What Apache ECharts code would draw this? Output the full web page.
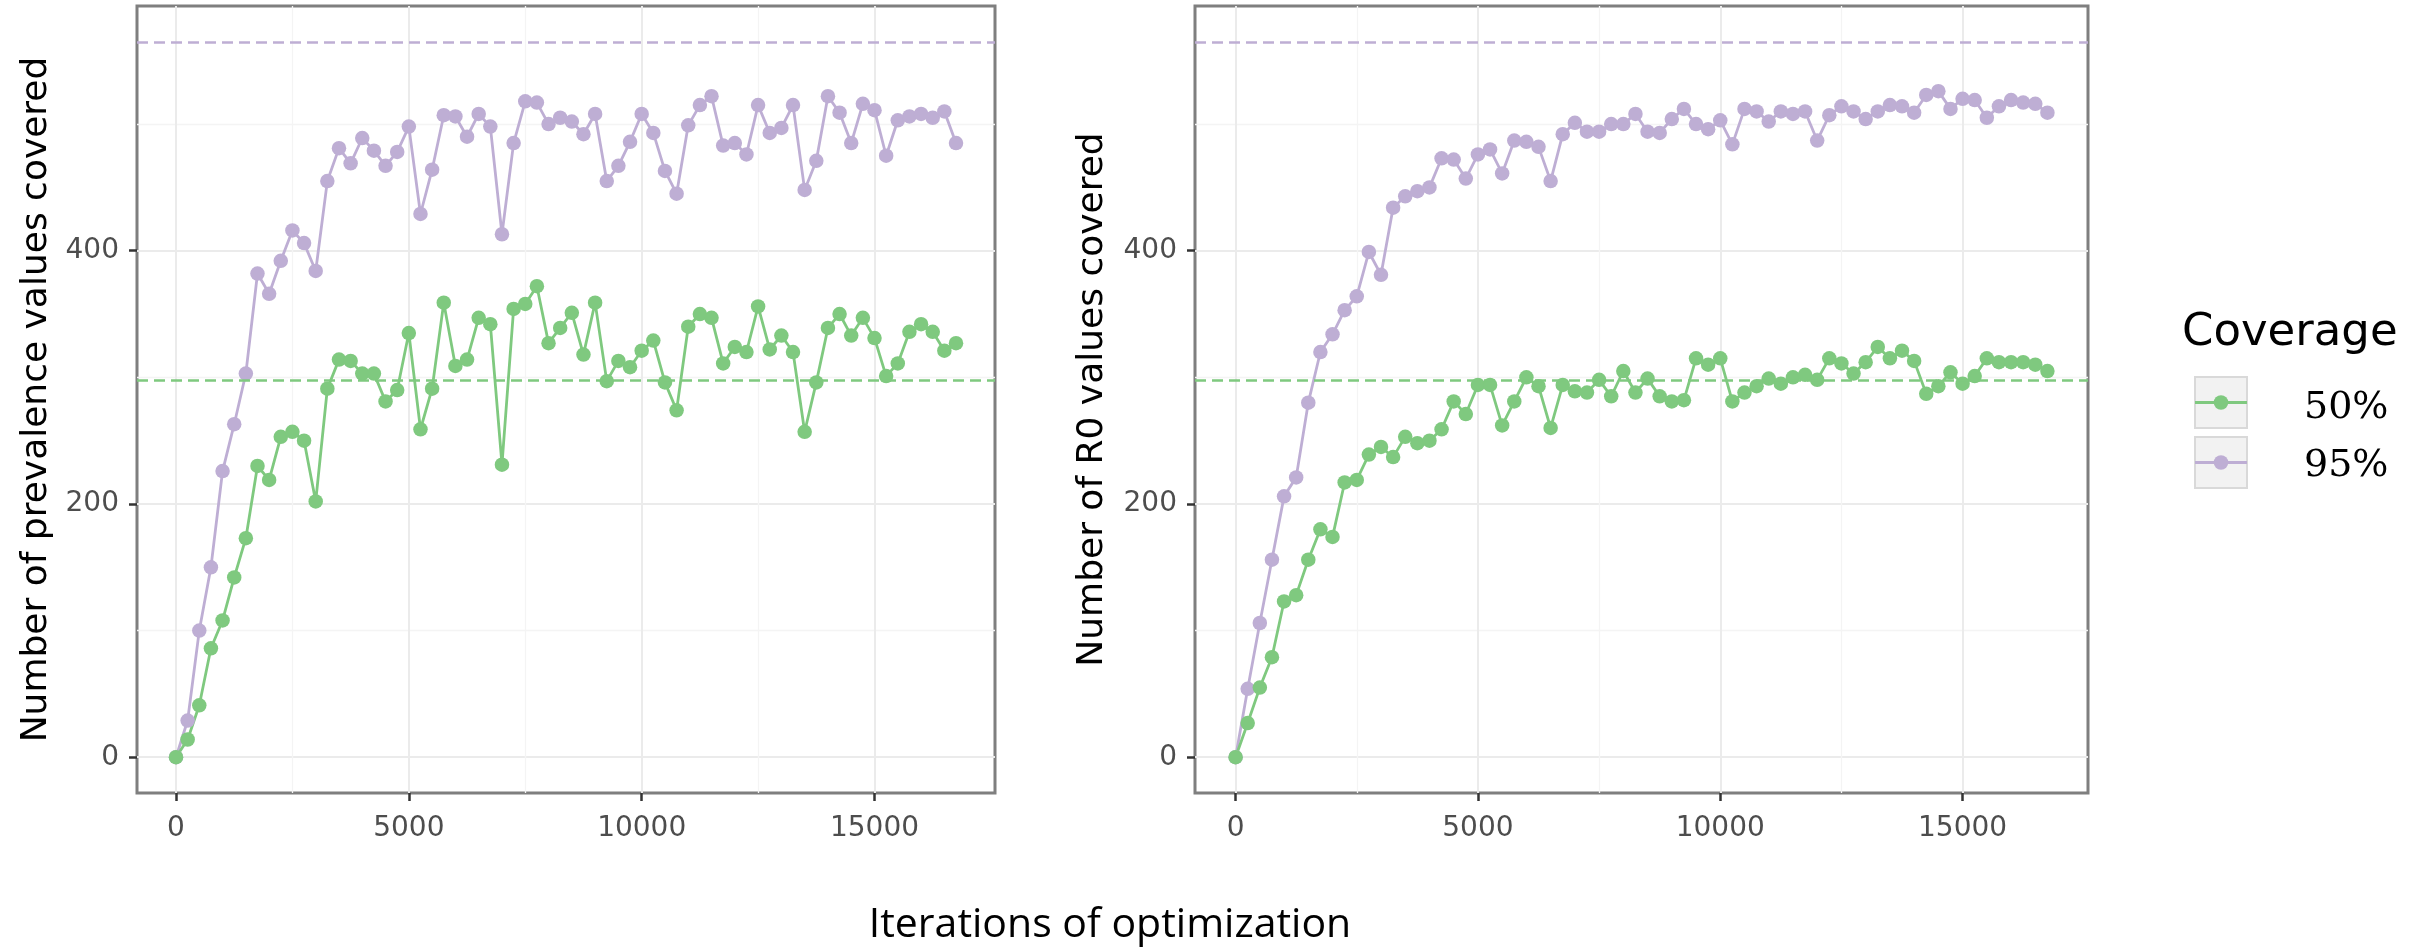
<!DOCTYPE html>
<html>
<head>
<meta charset="utf-8">
<script src="https://cdn.jsdelivr.net/npm/echarts@6/dist/echarts.min.js"></script>
<style>
html,body{margin:0;padding:0;background:#ffffff;}
#chart{width:2430px;height:948px;}
</style>
</head>
<body>
<div id="chart"></div>
<script>
// ---------------- data ----------------
const iterations = [0,250,500,750,1000,1250,1500,1750,2000,2250,2500,2750,3000,3250,3500,3750,4000,4250,4500,4750,
  5000,5250,5500,5750,6000,6250,6500,6750,7000,7250,7500,7750,8000,8250,8500,8750,9000,9250,9500,9750,
  10000,10250,10500,10750,11000,11250,11500,11750,12000,12250,12500,12750,13000,13250,13500,13750,14000,14250,14500,14750,
  15000,15250,15500,15750,16000,16250,16500,16750];

// Panel 1: Number of prevalence values covered
const prevalence50 = [0,14,41,86,108,142,173,230,219,253,257,250,202,291,314,313,303,303,281,290,
  335,259,291,359,309,314,347,342,231,354,358,372,327,339,351,318,359,297,313,308,
  321,329,296,274,340,350,347,311,324,320,356,322,333,320,257,296,339,350,333,347,
  331,301,311,336,342,336,321,327];
const prevalence95 = [0,29,100,150,226,263,303,382,366,392,416,406,384,455,481,469,489,479,467,478,
  498,429,464,507,506,490,508,498,413,485,518,517,500,505,502,492,508,455,467,486,
  508,493,463,445,499,515,522,483,485,476,515,493,497,515,448,471,522,509,485,516,
  511,475,503,506,508,505,510,485];

// Panel 2: Number of R0 values covered
const r0_50 = [0,27,55,79,123,128,156,180,174,217,219,239,245,237,253,248,250,259,281,271,
  294,294,262,281,300,293,260,294,289,288,298,285,305,288,299,285,281,282,315,310,
  315,281,288,293,299,295,300,302,298,315,311,303,312,324,315,321,313,287,293,304,
  295,301,315,312,312,312,310,305];
const r0_95 = [0,54,106,156,206,221,280,320,334,353,364,399,381,434,443,447,450,473,472,457,
  476,480,461,487,486,482,455,492,501,494,494,500,500,508,494,493,504,512,500,496,
  503,484,512,510,502,510,508,510,487,507,514,510,504,510,515,514,509,523,526,512,
  520,519,505,514,519,517,516,509];

// dashed reference lines (target counts)
const refLine50 = [297.5];
const refLine95 = [565];

const coverageLevels = ['50%', '95%'];
const xTickValues = [0, 5000, 10000, 15000];
const xMinorValues = [2500, 7500, 12500];
const yTickValues = [0, 200, 400];
const yMinorValues = [100, 300, 500];
const panelTitles = ['Number of prevalence values covered', 'Number of R0 values covered'];
const xTitle = 'Iterations of optimization';
const legendTitle = 'Coverage';

// ---------------- styling ----------------
const COL50 = '#7FC97F';
const COL95 = '#BEAED4';
const X_MIN = -837.5, X_MAX = 17587.5;
const Y_MIN = -28.25, Y_MAX = 593.25;
const FONT = 'DejaVu Sans';

const grids = [
  {left: 137, top: 6, width: 858, height: 787},
  {left: 1195, top: 6, width: 893, height: 787}
].map(g => Object.assign(g, {show: true, borderColor: '#7f7f7f', borderWidth: 3, backgroundColor: 'rgba(0,0,0,0)'}));

function majorX(gi) {
  return {
    type: 'value', gridIndex: gi, min: X_MIN, max: X_MAX,
    axisLine: {show: false, onZero: false},
    axisTick: {show: true, length: 8, customValues: xTickValues, lineStyle: {color: '#333333', width: 2.5}},
    axisLabel: {show: true, customValues: xTickValues, margin: 22, fontFamily: FONT, fontSize: 28, color: '#4d4d4d',
      formatter: v => String(v)},
    splitLine: {show: true, lineStyle: {color: '#ebebeb', width: 2}},
    minorTick: {show: false}, minorSplitLine: {show: false}
  };
}
function minorX(gi) {
  return {
    type: 'value', gridIndex: gi, min: X_MIN, max: X_MAX,
    axisLine: {show: false, onZero: false},
    axisTick: {show: false, customValues: xMinorValues},
    axisLabel: {show: false, customValues: xMinorValues},
    splitLine: {show: true, lineStyle: {color: '#f4f4f4', width: 1.3}}
  };
}
function majorY(gi, name, gap) {
  return {
    type: 'value', gridIndex: gi, min: Y_MIN, max: Y_MAX,
    name: name, nameLocation: 'middle', nameGap: gap,
    nameTextStyle: {fontFamily: FONT, fontSize: 36, color: '#000000'},
    axisLine: {show: false, onZero: false},
    axisTick: {show: true, length: 8, customValues: yTickValues, lineStyle: {color: '#333333', width: 2.5}},
    axisLabel: {show: true, customValues: yTickValues, margin: 18, fontFamily: FONT, fontSize: 28, color: '#4d4d4d',
      formatter: v => String(v)},
    splitLine: {show: true, lineStyle: {color: '#ebebeb', width: 2}}
  };
}
function minorY(gi) {
  return {
    type: 'value', gridIndex: gi, min: Y_MIN, max: Y_MAX,
    axisLine: {show: false, onZero: false},
    axisTick: {show: false, customValues: yMinorValues},
    axisLabel: {show: false, customValues: yMinorValues},
    splitLine: {show: true, lineStyle: {color: '#f4f4f4', width: 1.3}}
  };
}

const pairs = vals => iterations.map((x, i) => [x, vals[i]]);

function panelSeries(xi, yi, v50, v95) {
  const ref = (val, col) => ({
    silent: true, symbol: ['none', 'none'], label: {show: false},
    lineStyle: {color: col, type: [11, 6], width: 2.5},
    emphasis: {disabled: true},
    data: val.map(v => ({yAxis: v}))
  });
  const line = (name, vals, col, refVals) => ({
    type: 'line', name: name, xAxisIndex: xi, yAxisIndex: yi,
    data: pairs(vals), showSymbol: false, symbol: 'none',
    lineStyle: {color: col, width: 2.8}, itemStyle: {color: col},
    emphasis: {disabled: true}, silent: true, z: 2,
    markLine: ref(refVals, col)
  });
  const pts = (name, vals, col) => ({
    type: 'scatter', name: name, xAxisIndex: xi, yAxisIndex: yi,
    data: pairs(vals), symbol: 'circle', symbolSize: 14.5,
    itemStyle: {color: col, opacity: 1},
    emphasis: {disabled: true}, silent: true, z: 3
  });
  return [
    line(coverageLevels[1], v95, COL95, refLine95),
    line(coverageLevels[0], v50, COL50, refLine50),
    pts(coverageLevels[1], v95, COL95),
    pts(coverageLevels[0], v50, COL50)
  ];
}

// legend (drawn as a ggplot-style key)
const legendGraphic = [
  {type: 'text', x: 2182, y: 333, style: {text: legendTitle, fontFamily: FONT, fontSize: 45, fill: '#000', align: 'left', verticalAlign: 'middle'}},
];
[[COL50, 377, 408], [COL95, 437, 466]].forEach(([col, top, ty], k) => {
  legendGraphic.push(
    {type: 'rect', shape: {x: 2195, y: top, width: 52, height: 51}, style: {fill: '#f2f2f2', stroke: '#d9d9d9', lineWidth: 2}},
    {type: 'line', shape: {x1: 2195, y1: top + 25.5, x2: 2247, y2: top + 25.5}, style: {stroke: col, lineWidth: 2.8}},
    {type: 'circle', shape: {cx: 2221, cy: top + 25.5, r: 7.25}, style: {fill: col}},
    {type: 'text', x: 2304, y: ty, style: {text: coverageLevels[k], fontFamily: 'DejaVu Serif', fontSize: 38, fill: '#000', align: 'left', verticalAlign: 'middle'}}
  );
});
legendGraphic.push({type: 'text', x: 1110, y: 925, style: {text: xTitle, fontFamily: 'Open Sans', fontSize: 41, fill: '#000', align: 'center', verticalAlign: 'middle'}});

const chart = echarts.init(document.getElementById('chart'), null, {renderer: 'canvas'});
chart.setOption({
  backgroundColor: '#ffffff',
  animation: false,
  grid: grids,
  xAxis: [majorX(0), minorX(0), majorX(1), minorX(1)],
  yAxis: [majorY(0, panelTitles[0], 82), minorY(0), majorY(1, panelTitles[1], 84), minorY(1)],
  series: [].concat(panelSeries(0, 0, prevalence50, prevalence95), panelSeries(2, 2, r0_50, r0_95)),
  graphic: legendGraphic
});
</script>
</body>
</html>
